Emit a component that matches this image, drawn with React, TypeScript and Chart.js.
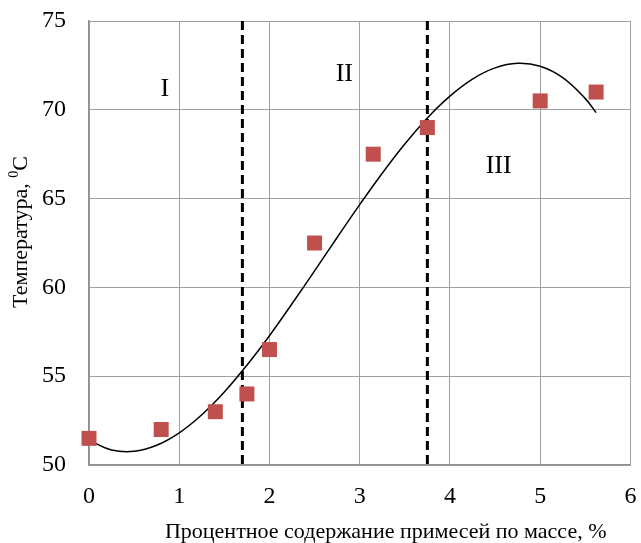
import React, { useEffect, useRef } from "react";
import { Chart, registerables } from "chart.js";

Chart.register(...registerables);

const measuredX = [0, 0.8, 1.4, 1.75, 2, 2.5, 3.15, 3.75, 5, 5.62];
const measuredY = [51.5, 52, 53, 54, 56.5, 62.5, 67.5, 69, 70.5, 71];

const trendX = [0, 0.25, 0.5, 0.75, 1, 1.25, 1.5, 1.75, 2, 2.25, 2.5, 2.75, 3, 3.25, 3.5, 3.75, 4, 4.25, 4.5, 4.75, 5, 5.25, 5.5, 5.62];
const trendY = [51.4, 50.85, 50.77, 51.11, 51.81, 52.83, 54.11, 55.62, 57.28, 59.08, 60.93, 62.81, 64.66, 66.43, 68.07, 69.54, 70.77, 71.73, 72.36, 72.62, 72.45, 71.81, 70.63, 69.84];

const boundaryX = [1.7, 3.75];
const boundaryY = [75, 49.8];

const zoneLabels = ["I", "II", "III"];
const zoneX = [0.84, 2.83, 4.54];
const zoneY = [71.15, 72.0, 66.8];

const xTitle = "Процентное содержание примесей по массе, %";
const yTitleMain = "Температура, ";
const yTitleSup = "0";
const yTitleUnit = "C";

const FONT = "'Liberation Serif', 'Times New Roman', serif";

export default function App() {
  const ref = useRef<HTMLCanvasElement | null>(null);
  useEffect(() => {
    document.body.style.margin = "0";
    const canvas = ref.current;
    if (!canvas) return;

    const textPlugin = {
      id: "textPlugin",
      afterDatasetsDraw(chart: any) {
        const { ctx, chartArea, scales } = chart;
        ctx.save();
        ctx.fillStyle = "#000";
        ctx.textAlign = "center";
        ctx.textBaseline = "middle";
        ctx.font = `26px ${FONT}`;
        zoneLabels.forEach((t, i) => {
          ctx.fillText(t, scales.x.getPixelForValue(zoneX[i]), scales.y.getPixelForValue(zoneY[i]));
        });
        // x title
        ctx.font = `22px ${FONT}`;
        ctx.fillText(xTitle, (chartArea.left + chartArea.right) / 2 + 26, 532);
        // y title with superscript
        ctx.translate(21, (chartArea.top + chartArea.bottom) / 2 - 11);
        ctx.rotate(-Math.PI / 2);
        ctx.font = `22px ${FONT}`;
        const w1 = ctx.measureText(yTitleMain).width;
        ctx.font = `14px ${FONT}`;
        const w2 = ctx.measureText(yTitleSup).width;
        ctx.font = `22px ${FONT}`;
        const w3 = ctx.measureText(yTitleUnit).width;
        const total = w1 + w2 + w3;
        let x0 = -total / 2;
        ctx.textAlign = "left";
        ctx.fillText(yTitleMain, x0, 0);
        x0 += w1;
        ctx.font = `14px ${FONT}`;
        ctx.fillText(yTitleSup, x0, -7);
        x0 += w2;
        ctx.font = `22px ${FONT}`;
        ctx.fillText(yTitleUnit, x0, 0);
        ctx.restore();
      },
    };

    const chart = new Chart(canvas, {
      type: "scatter",
      data: {
        datasets: [
          ...boundaryX.map((bx) => ({
            type: "line" as const,
            data: boundaryY.map((by) => ({ x: bx, y: by })),
            borderColor: "#000",
            borderWidth: 3,
            borderDash: [9, 5],
            pointRadius: 0,
            clip: false as any,
            order: 1,
          })),
          {
            type: "line" as const,
            data: trendX.map((x, i) => ({ x, y: trendY[i] })),
            borderColor: "#000",
            borderWidth: 1.5,
            tension: 0.4,
            pointRadius: 0,
            order: 2,
          },
          {
            type: "scatter" as const,
            data: measuredX.map((x, i) => ({ x, y: measuredY[i] })),
            backgroundColor: "#C0504D",
            borderColor: "#C0504D",
            borderWidth: 0,
            pointStyle: "rect",
            pointRadius: 10.6,
            clip: false as any,
            order: 0,
          },
        ],
      },
      options: {
        animation: false,
        responsive: false,
        events: [],
        layout: { padding: { top: 21, right: 9, left: 0, bottom: 0 } },
        plugins: { legend: { display: false }, tooltip: { enabled: false } },
        scales: {
          x: {
            type: "linear",
            min: 0,
            max: 6,
            ticks: { stepSize: 1, color: "#000", font: { family: FONT, size: 24 }, padding: 17 },
            grid: { color: "#a0a0a0", lineWidth: 1, drawTicks: false },
            border: { color: "#909090", width: 1.5 },
            afterFit: (s: any) => { s.height = 78; s.paddingLeft = 0; s.paddingRight = 0; },
          },
          y: {
            type: "linear",
            min: 50,
            max: 75,
            ticks: { stepSize: 5, color: "#000", font: { family: FONT, size: 24 }, padding: 23 },
            grid: { color: "#a0a0a0", lineWidth: 1, drawTicks: false },
            border: { color: "#909090", width: 1.5 },
            afterFit: (s: any) => { s.width = 89; s.paddingTop = 0; s.paddingBottom = 0; },
          },
        },
      },
      plugins: [textPlugin],
    } as any);
    return () => chart.destroy();
  }, []);
  return (
    <div style={{ width: 641, height: 543, background: "#fff" }}>
      <canvas ref={ref} width={641} height={543} style={{ display: "block" }} />
    </div>
  );
}
